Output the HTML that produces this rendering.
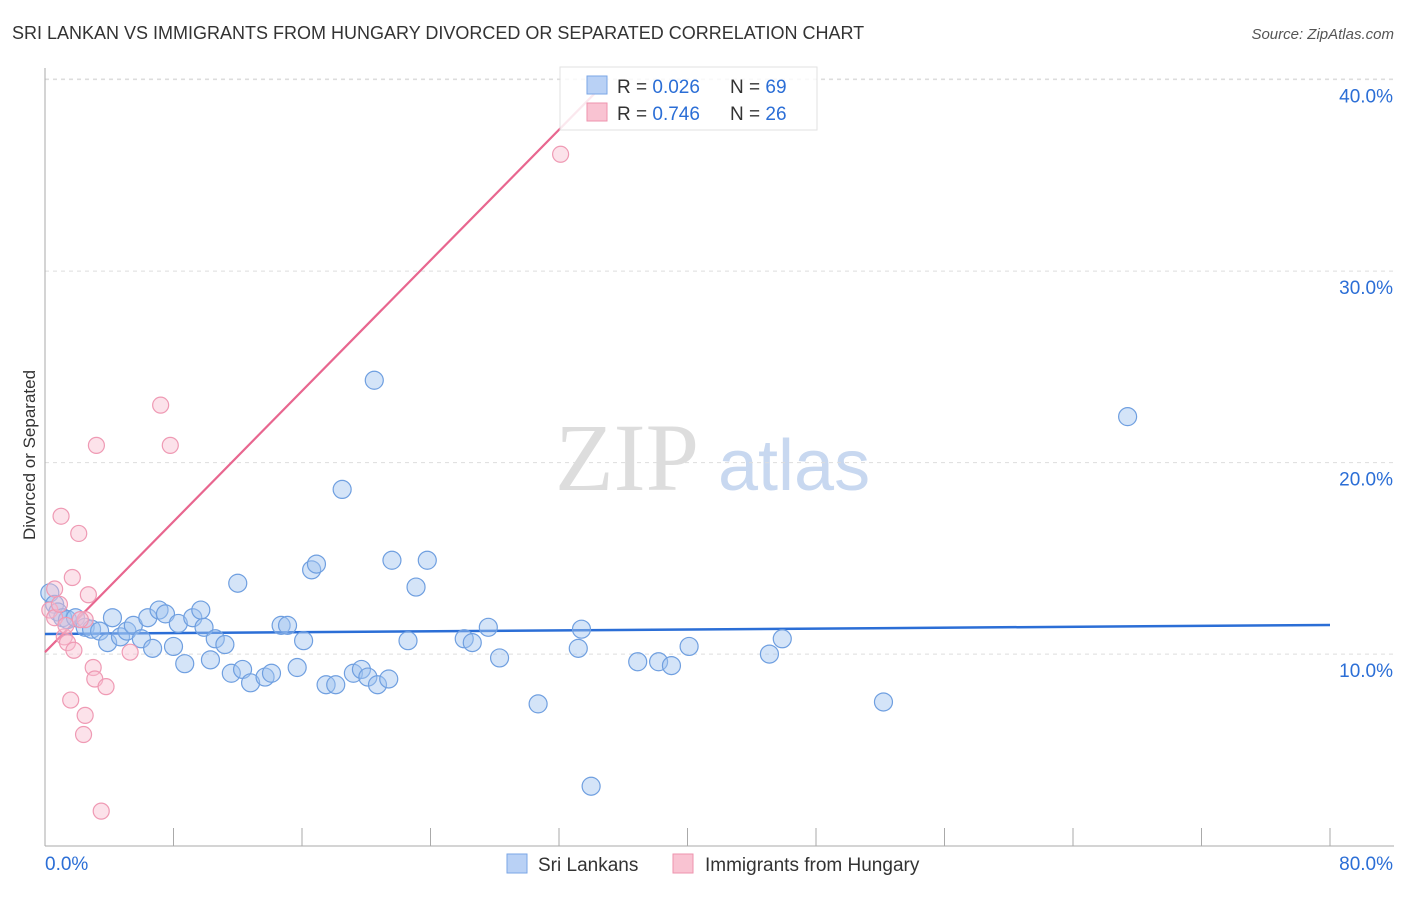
<!DOCTYPE html>
<html><head><meta charset="utf-8"><style>
body{margin:0;background:#fff;font-family:"Liberation Sans",sans-serif}
</style></head><body>
<svg id="chart" width="1406" height="892" font-family="Liberation Sans, sans-serif">
<text x="12" y="39" font-size="18" fill="#333">SRI LANKAN VS IMMIGRANTS FROM HUNGARY DIVORCED OR SEPARATED CORRELATION CHART</text>
<text x="1394" y="39" font-size="15" fill="#555" font-style="italic" text-anchor="end">Source: ZipAtlas.com</text>
<text x="35" y="455" font-size="17" fill="#333" text-anchor="middle" transform="rotate(-90 35 455)">Divorced or Separated</text>
<g><text x="555" y="490" font-size="96" fill="#ddd" font-family="Liberation Serif, serif">ZIP</text><text x="718" y="490" font-size="72" fill="#c8d8f0">atlas</text></g>
<g id="grid"></g><g id="axes"></g><g id="lines"></g><g id="pts"></g>
<g>
<rect x="560" y="67" width="257" height="63" fill="#fff" stroke="#ddd" opacity="0.85"/>
<rect x="587" y="76" width="20" height="18" fill="#b9d1f5" stroke="#7aa6e6"/>
<rect x="587" y="103" width="20" height="18" fill="#f9c3d2" stroke="#ee93ae"/>
<text x="617" y="93" font-size="19" fill="#333">R = <tspan fill="#2b6ed6">0.026</tspan></text>
<text x="730" y="93" font-size="19" fill="#333">N = <tspan fill="#2b6ed6">69</tspan></text>
<text x="617" y="120" font-size="19" fill="#333">R = <tspan fill="#2b6ed6">0.746</tspan></text>
<text x="730" y="120" font-size="19" fill="#333">N = <tspan fill="#2b6ed6">26</tspan></text>
</g>
<g>
<rect x="507" y="854" width="20" height="19" fill="#b9d1f5" stroke="#7aa6e6"/>
<text x="538" y="871" font-size="19" fill="#333">Sri Lankans</text>
<rect x="673" y="854" width="20" height="19" fill="#f9c3d2" stroke="#ee93ae"/>
<text x="705" y="871" font-size="19" fill="#333">Immigrants from Hungary</text>
</g>
</svg>
<script>
const yTicks=[10,20,30,40];
const yTickLabels=["10.0%","20.0%","30.0%","40.0%"];
const xTickLabels=["0.0%","80.0%"];
const blueX=[0.3,0.6,0.8,1.1,1.4,1.9,2.5,2.9,3.4,3.9,4.2,4.7,5.1,5.5,6.0,6.4,6.7,7.1,7.5,8.0,8.3,8.7,9.2,9.7,9.9,10.3,10.6,11.2,11.6,12.0,12.3,12.8,13.7,14.1,14.7,15.1,15.7,16.1,16.6,16.9,17.5,18.1,18.5,19.2,19.7,20.1,20.5,20.7,21.4,21.6,22.6,23.1,23.8,26.1,26.6,27.6,28.3,30.7,33.2,33.4,34.0,36.9,38.2,39.0,40.1,45.1,45.9,52.2,67.4];
const blueY=[13.2,12.6,12.2,11.9,11.8,11.9,11.4,11.3,11.2,10.6,11.9,10.9,11.2,11.5,10.8,11.9,10.3,12.3,12.1,10.4,11.6,9.5,11.9,12.3,11.4,9.7,10.8,10.5,9.0,13.7,9.2,8.5,8.8,9.0,11.5,11.5,9.3,10.7,14.4,14.7,8.4,8.4,18.6,9.0,9.2,8.8,24.3,8.4,8.7,14.9,10.7,13.5,14.9,10.8,10.6,11.4,9.8,7.4,10.3,11.3,3.1,9.6,9.6,9.4,10.4,10.0,10.8,7.5,22.4];
const pinkX=[0.3,0.6,0.9,1.0,1.2,1.4,1.7,1.8,2.1,2.4,2.5,2.5,2.7,3.0,3.1,3.2,3.5,3.8,5.3,7.2,7.8,32.1,0.6,1.3,1.6,2.2];
const pinkY=[12.3,11.9,12.6,17.2,10.9,10.6,14.0,10.2,16.3,5.8,6.8,11.8,13.1,9.3,8.7,20.9,1.8,8.3,10.1,23.0,20.9,36.1,13.4,11.5,7.6,11.8];
const blueLine=[[0,11.05],[80,11.52]];
const pinkLine=[[0,10.1],[34.6,39.6]];
const X=v=>45+v/80*1285, Y=v=>845.6-v*19.15;
const NS="http://www.w3.org/2000/svg";
function mk(tag,attrs,parent){const e=document.createElementNS(NS,tag);for(const k in attrs)e.setAttribute(k,attrs[k]);document.getElementById(parent).appendChild(e);return e;}
yTicks.forEach((t,i)=>{
 const g=mk('line',{x1:45,x2:1394,y1:Y(t),y2:Y(t),stroke:'#ddd','stroke-dasharray':'4,4'},'grid');
 
 
 const l=mk('text',{x:1393,y:Y(t)+23,'font-size':19,fill:'#2b6ed6','text-anchor':'end'},'axes');l.textContent=yTickLabels[i];
 
 
});
const topg=mk('line',{x1:45,x2:1394,y1:79,y2:79,stroke:'#ddd','stroke-dasharray':'4,4'},'grid');


const ya=mk('line',{x1:45,x2:45,y1:68,y2:846,stroke:'#aaa'},'axes');


const xa=mk('line',{x1:45,x2:1394,y1:846,y2:846,stroke:'#aaa'},'axes');


for(let i=1;i<=10;i++){const t=mk('line',{x1:X(i*8),x2:X(i*8),y1:828,y2:846,stroke:'#aaa'},'axes');
 
 }
const xl0=mk('text',{x:45,y:870,'font-size':19,fill:'#2b6ed6'},'axes');xl0.textContent=xTickLabels[0];


const xl1=mk('text',{x:1393,y:870,'font-size':19,fill:'#2b6ed6','text-anchor':'end'},'axes');xl1.textContent=xTickLabels[1];


blueX.forEach((x,i)=>{const c=mk('circle',{cx:X(x),cy:Y(blueY[i]),r:9,fill:'rgba(160,195,240,0.45)',stroke:'#6f9fe0','stroke-width':1.2},'pts');
 
 });
pinkX.forEach((x,i)=>{const c=mk('circle',{cx:X(x),cy:Y(pinkY[i]),r:8,fill:'rgba(248,190,208,0.45)',stroke:'#ef9ab4','stroke-width':1.2},'pts');
 
 });
const bl=mk('line',{x1:X(blueLine[0][0]),y1:Y(blueLine[0][1]),x2:X(blueLine[1][0]),y2:Y(blueLine[1][1]),stroke:'#2b6ed6','stroke-width':2.5},'lines');


const pl=mk('line',{x1:X(pinkLine[0][0]),y1:Y(pinkLine[0][1]),x2:X(pinkLine[1][0]),y2:Y(pinkLine[1][1]),stroke:'#e8668f','stroke-width':2.2},'lines');


</script>
</body></html>
